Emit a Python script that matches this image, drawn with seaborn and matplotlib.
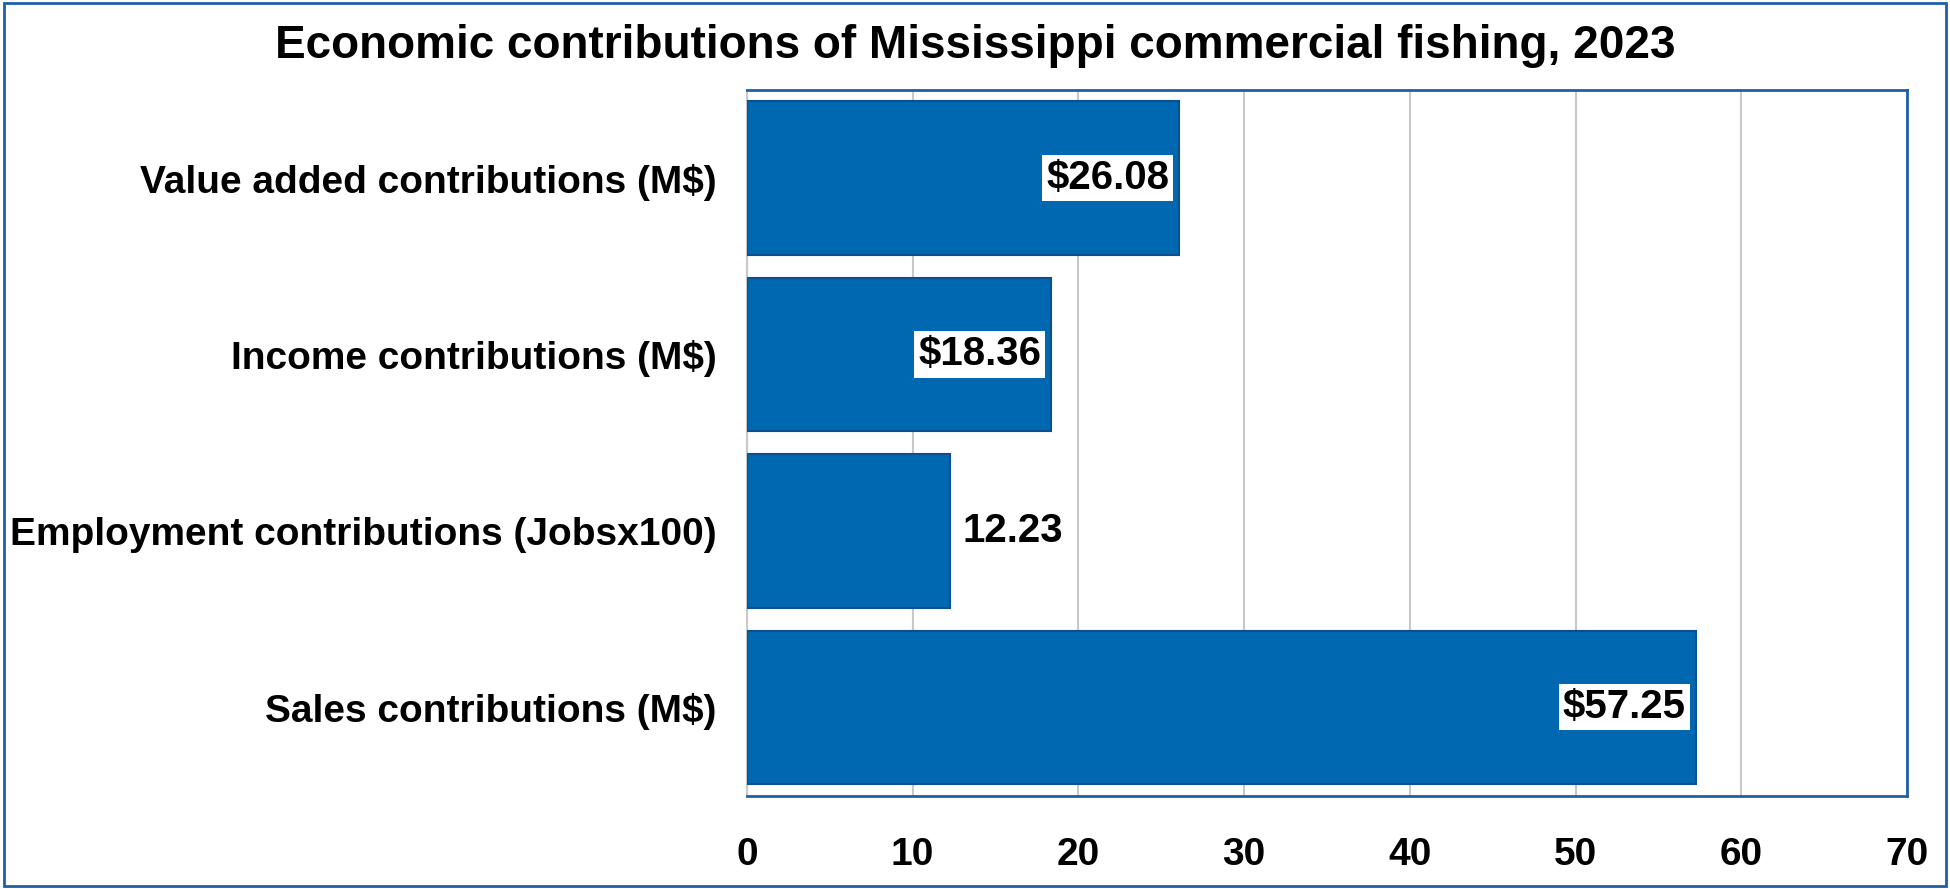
import numpy as np
import pandas as pd
import seaborn as sns
import matplotlib.pyplot as plt
from matplotlib.patches import Rectangle

categories = ['Value added contributions (M$)', 'Income contributions (M$)',
              'Employment contributions (Jobsx100)', 'Sales contributions (M$)']
values = [26.08, 18.36, 12.23, 57.25]
labels = ['$26.08', '$18.36', '12.23', '$57.25']
inside = [True, True, False, True]

df = pd.DataFrame({'category': categories, 'value': values})

sns.set_theme(style='white')
plt.rcParams['font.family'] = ['Liberation Sans', 'DejaVu Sans']
plt.rcParams['text.color'] = 'black'
plt.rcParams['xtick.color'] = 'black'
plt.rcParams['ytick.color'] = 'black'

fig = plt.figure(figsize=(19.5, 8.89), dpi=100)
ax = fig.add_axes([0.383, 0.105, 0.595, 0.794])

sns.barplot(data=df, x='value', y='category', color='#0068B0', saturation=1,
            width=0.87, edgecolor='#0A4F8F', linewidth=1.5, ax=ax, zorder=3)

ax.set_xlim(0, 70)
ax.set_xticks(np.arange(0, 71, 10))
ax.xaxis.grid(True, color='#C8C8C8', linewidth=1.5, zorder=0)
ax.set_axisbelow(True)
ax.set_xlabel('')
ax.set_ylabel('')
ax.tick_params(axis='x', labelsize=28, pad=30, length=0)
ax.tick_params(axis='y', labelsize=28, pad=22, length=0)
for t in ax.get_xticklabels() + ax.get_yticklabels():
    t.set_fontweight('bold')

for s in ['top', 'bottom', 'right']:
    ax.spines[s].set_color('#1F5FA8')
    ax.spines[s].set_linewidth(2)
ax.spines['left'].set_color('#C8C8C8')
ax.spines['left'].set_linewidth(1.5)

for i, (v, lab, ins) in enumerate(zip(values, labels, inside)):
    if ins:
        ax.text(v - 0.6, i, lab, ha='right', va='center', fontsize=29,
                fontweight='bold', color='black', zorder=5,
                bbox=dict(facecolor='white', edgecolor='none', pad=3))
    else:
        ax.text(v + 0.8, i, lab, ha='left', va='center', fontsize=29,
                fontweight='bold', color='black', zorder=5)

fig.text(0.5, 0.948, 'Economic contributions of Mississippi commercial fishing, 2023',
         ha='center', va='center', fontsize=33, fontweight='bold', color='black')

fig.patches.append(Rectangle((0.002, 0.003), 0.996, 0.994, transform=fig.transFigure,
                             fill=False, edgecolor='#1F5FA8', linewidth=2))

fig.savefig('out.png', dpi=100)
